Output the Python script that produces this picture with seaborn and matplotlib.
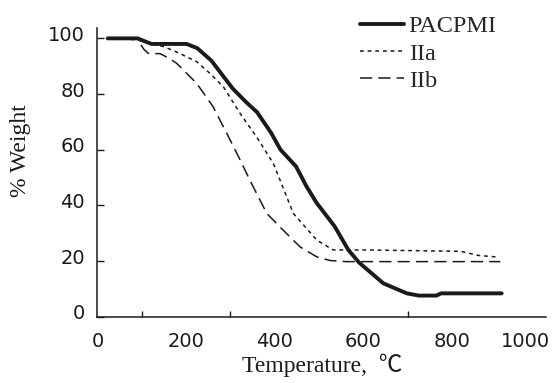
import numpy as np
import pandas as pd
from matplotlib import pyplot as plt
from matplotlib import transforms
import seaborn as sns

# TGA curves
pac_t = [23, 90, 122, 201, 225, 257, 281, 305, 336, 360, 392, 413, 448, 471, 494,
         535, 566, 590, 645, 698, 725, 765, 775, 912]
pac_w = [100, 100, 98, 98, 96.5, 92, 87, 82, 77, 73.5, 66, 60, 54, 47, 41,
         32.5, 24, 19.5, 12, 8.4, 7.6, 7.6, 8.4, 8.4]

iia_t = [23, 90, 120, 150, 180, 224, 254, 284, 322, 359, 397, 442, 495, 532,
         600, 820, 860, 900]
iia_w = [100, 99.5, 98, 97, 95, 91.6, 87.4, 82.6, 73, 64.6, 55, 37.1, 27.5, 24,
         24, 23.5, 22, 21.5]

iib_t = [23, 88, 105, 115, 141, 160, 179, 224, 261, 292, 322, 344, 382, 419,
         457, 495, 525, 560, 909]
iib_w = [100, 100, 96, 94.6, 94.5, 93, 91, 83.8, 75.4, 65.8, 56.3, 49, 37.1, 31.1,
         25.1, 21.5, 20.2, 19.8, 19.8]

x_ticks = [0, 200, 400, 600, 800, 1000]
x_marks = [100, 300, 400, 700]
y_ticks = [0, 20, 40, 60, 80, 100]

sns.set_theme(style='white')
plt.rcParams['font.family'] = ['DejaVu Sans']

fig = plt.figure(figsize=(5.52, 3.83), dpi=100)
ax = fig.add_axes([0.1766, 0.173, 0.8125, 0.753])

sns.lineplot(x=pac_t, y=pac_w, ax=ax, color='k', lw=2.8, label='PACPMI')
sns.lineplot(x=iia_t, y=iia_w, ax=ax, color='k', lw=1.1, linestyle=(0, (2.5, 2.5)), label='IIa')
sns.lineplot(x=iib_t, y=iib_w, ax=ax, color='k', lw=1.1, linestyle=(0, (8, 4)), label='IIb')

ax.set_xlim(0, 1012)
ax.set_ylim(0, 103.6)
sns.despine(ax=ax)
for s in ['left', 'bottom']:
    ax.spines[s].set_color('k')
    ax.spines[s].set_linewidth(1.1)

ax.set_xticks(x_ticks)
ax.set_xticks(x_marks, minor=True)
ax.set_yticks(y_ticks)
ax.tick_params(axis='x', which='major', length=0, pad=11, labelsize=14, labelcolor='k')
ax.tick_params(axis='x', which='minor', direction='in', length=4, width=1, color='k', bottom=True)
ax.tick_params(axis='y', which='major', direction='in', length=5, width=1, color='k',
               pad=9, labelsize=14, labelcolor='k', left=True)

# the scan has the y labels sitting a bit high and the last x label pulled in
up = transforms.ScaledTranslation(0, 5 / 100, fig.dpi_scale_trans)
for lab in ax.get_yticklabels():
    lab.set_transform(lab.get_transform() + up)
xl = ax.get_xticklabels()
xl[-1].set_transform(xl[-1].get_transform() + transforms.ScaledTranslation(-15 / 100, 0, fig.dpi_scale_trans))

serif = ['Liberation Serif', 'Noto Sans CJK SC']
ax.set_xlabel('Temperature,  ℃', family=serif, fontsize=17, color='k', labelpad=2)
ax.set_ylabel('% Weight', family=serif, fontsize=17, color='k')
ax.yaxis.set_label_coords(-0.148, 0.575)

ax.legend(loc='upper left', bbox_to_anchor=(348 / 552, 1 - 3 / 383), bbox_transform=fig.transFigure,
          frameon=False, borderpad=0, handlelength=1.8, handletextpad=0.2, labelspacing=0.22,
          prop={'family': 'Liberation Serif', 'size': 17.5})

fig.savefig('out.png', dpi=100, facecolor='white')
